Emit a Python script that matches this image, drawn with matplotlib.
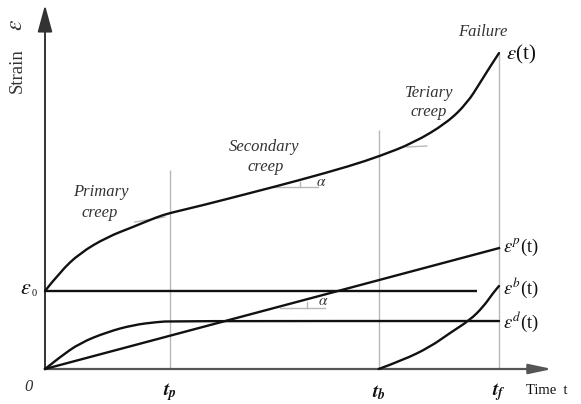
import matplotlib
matplotlib.use("Agg")
import matplotlib.pyplot as plt
from matplotlib.path import Path
from matplotlib.patches import PathPatch

plt.rcParams['font.family'] = ['Liberation Serif', 'DejaVu Serif']
plt.rcParams['mathtext.fontset'] = 'stix'

# characteristic times (t_f = time to failure)
t_p, t_b, t_f = 0.275, 0.735, 1.0
# instantaneous elastic strain
eps0 = 1.0
eps0_end = 0.952

# total strain ε(t)
total_t = [0.0, 0.033, 0.077, 0.137, 0.194, 0.247, 0.275, 0.341, 0.452, 0.562,
           0.672, 0.738, 0.811, 0.885, 0.930, 0.958, 0.980, 1.0]
total_s = [1.0, 1.244, 1.487, 1.692, 1.821, 1.949, 2.0, 2.09, 2.256, 2.423,
           2.603, 2.731, 2.897, 3.154, 3.410, 3.667, 3.872, 4.05]

# delayed elastic strain ε^d(t)
delayed_t = [0.0, 0.033, 0.077, 0.137, 0.194, 0.247, 0.282, 1.0]
delayed_s = [0.0, 0.154, 0.333, 0.474, 0.564, 0.603, 0.615, 0.615]

# viscoplastic strain ε^p(t)
plastic_t = [0.0, 1.0]
plastic_s = [0.0, 1.55]

# damage strain ε^b(t)
brittle_t = [0.735, 0.789, 0.848, 0.892, 0.936, 0.965, 0.987, 1.0]
brittle_s = [0.0, 0.115, 0.282, 0.462, 0.628, 0.795, 0.974, 1.064]


def smooth_curve(ax, xs, ys, **kw):
    """Draw a polyline as a chain of quadratic Béziers through segment midpoints."""
    pts = list(zip(xs, ys))
    verts = [pts[0]]
    codes = [Path.MOVETO]
    for i in range(1, len(pts) - 1):
        mid = ((pts[i][0] + pts[i + 1][0]) / 2, (pts[i][1] + pts[i + 1][1]) / 2)
        verts += [pts[i], mid]
        codes += [Path.CURVE3, Path.CURVE3]
    verts.append(pts[-1])
    codes.append(Path.LINETO)
    ax.add_patch(PathPatch(Path(verts, codes), fill=False, capstyle='round',
                           joinstyle='round', **kw))


fig = plt.figure(figsize=(5.81, 4.04), dpi=100)
ax = fig.add_axes([0, 0, 1, 1])
ax.set_xlim(-45 / 454, 536 / 454)
ax.set_ylim(-35 / 78, 369 / 78)
ax.axis('off')

axis_col = '#333333'
guide_col = '#b8b8b8'
ink = '#111111'
lw = 1.7

# coordinate axes with arrow heads
ax.annotate('', xy=(0, 4.667), xytext=(0, 0),
            arrowprops=dict(arrowstyle='-|>,head_length=1.65,head_width=0.45',
                            color=axis_col, lw=1.4, shrinkA=0, shrinkB=0,
                            mutation_scale=10))
ax.annotate('', xy=(1.117, 0), xytext=(0, 0),
            arrowprops=dict(arrowstyle='-|>,head_length=1.4,head_width=0.3',
                            color='#555555', lw=1.6, shrinkA=0, shrinkB=0,
                            mutation_scale=10))

# vertical guides at the stage boundaries
ax.vlines([t_p, t_b, t_f], 0, [2.55, 3.06, 4.05], color=guide_col, lw=1.0, zorder=1)

# strain components
smooth_curve(ax, total_t, total_s, edgecolor=ink, lw=lw, zorder=3)
smooth_curve(ax, delayed_t, delayed_s, edgecolor=ink, lw=lw, zorder=3)
ax.plot(plastic_t, plastic_s, color=ink, lw=lw, zorder=3)
smooth_curve(ax, brittle_t, brittle_s, edgecolor=ink, lw=lw, zorder=3)
ax.hlines(eps0, 0, eps0_end, color=ink, lw=lw, zorder=3)

# slope markers and stage tangents
thin = dict(color=guide_col, lw=1.0, zorder=2)
ax.plot([0.198, 0.264], [1.885, 1.949], **thin)
ax.plot([0.797, 0.841], [2.846, 2.859], **thin)
ax.plot([0.502, 0.601], [2.333, 2.333], **thin)
ax.plot([0.562, 0.562], [2.333, 2.40], **thin)
ax.plot([0.518, 0.617], [0.782, 0.782], **thin)
ax.plot([0.577, 0.577], [0.782, 0.86], **thin)

lab = '#333333'
ital = dict(style='italic', color=lab, fontsize=12, ha='center', va='center')

# axis titles
ax.text(-0.0617, 3.82, 'Strain', rotation=90, fontsize=13.5, color=lab,
        ha='center', va='center')
ax.text(-0.0617, 4.41, r'$\varepsilon$', rotation=90, fontsize=17, color=lab,
        ha='center', va='center')
ax.text(1.106, -0.282, 'Time  t', fontsize=10.5, color=ink, ha='center', va='center')
ax.text(-0.0352, -0.231, '0', fontsize=12, style='italic', color=lab,
        ha='center', va='center')
ax.text(-0.043, 1.013, r'$\varepsilon$', fontsize=16, color=ink,
        ha='center', va='center')
ax.text(-0.024, 0.97, '0', fontsize=7.5, color=ink, ha='center', va='center')

# time marks
for tx, sub in [(t_p, 'p'), (t_b, 'b'), (t_f, 'f')]:
    ax.text(tx, -0.30, r'$\mathbfit{t}_{\mathbfit{%s}}$' % sub, fontsize=14,
            color=ink, ha='center', va='center')

# stage annotations
ax.text(0.965, 4.32, 'Failure', **ital)
ax.text(0.846, 3.538, 'Teriary', **ital)
ax.text(0.846, 3.295, 'creep', **ital)
ax.text(0.482, 2.846, 'Secondary', **ital)
ax.text(0.485, 2.59, 'creep', **ital)
ax.text(0.123, 2.269, 'Primary', **ital)
ax.text(0.121, 2.0, 'creep', **ital)
ax.text(0.608, 2.397, r'$\alpha$', fontsize=11, color=lab, ha='center', va='center')
ax.text(0.612, 0.859, r'$\alpha$', fontsize=11, color=lab, ha='center', va='center')

# curve labels
ax.text(1.016, 4.026, r'$\varepsilon$(t)', fontsize=15, color=ink, ha='left', va='center')
ax.text(1.009, 1.564, r'$\varepsilon^{p}$(t)', fontsize=13.5, color=ink, ha='left', va='center')
ax.text(1.009, 1.038, r'$\varepsilon^{b}$(t)', fontsize=13.5, color=ink, ha='left', va='center')
ax.text(1.009, 0.603, r'$\varepsilon^{d}$(t)', fontsize=13.5, color=ink, ha='left', va='center')

fig.savefig('out.png', dpi=100)
